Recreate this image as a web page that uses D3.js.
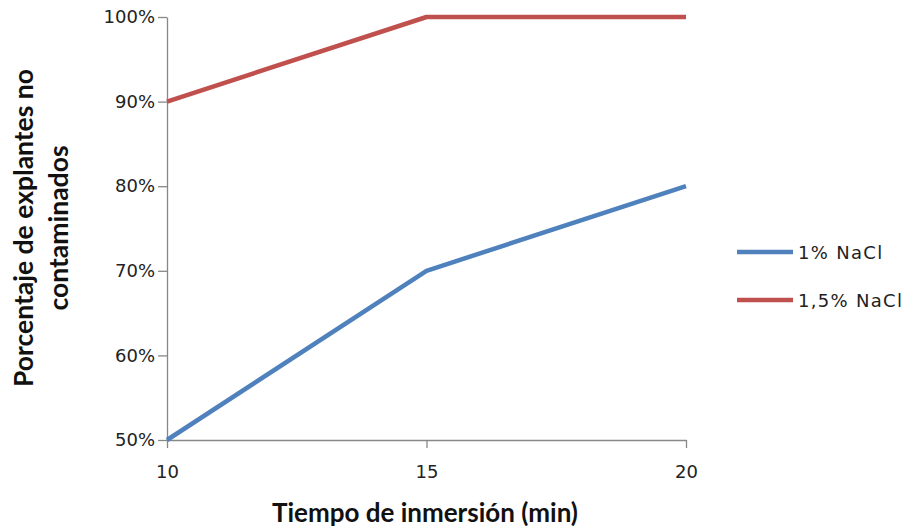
<!DOCTYPE html>
<html><head><meta charset="utf-8">
<script src="https://cdn.jsdelivr.net/npm/d3@7"></script>
<style>body{margin:0;background:#fff}</style>
</head><body>
<svg id="c" width="909" height="532"></svg>
<script>
const times = [10, 15, 20];
const nacl1 = [50, 70, 80];
const nacl15 = [90, 100, 100];
const seriesNames = ["1% NaCl", "1,5% NaCl"];
const seriesColors = ["#4F81BD", "#C0504D"];
const yTicks = [50, 60, 70, 80, 90, 100];

const svg = d3.select("#c");
const x = d3.scaleLinear().domain([10, 20]).range([167, 686]);
const y = d3.scaleLinear().domain([50, 100]).range([440, 17]);

const tickFont = "DejaVu Sans, Verdana, sans-serif";

const yAxis = svg.append("g").attr("transform", "translate(167,0)")
  .call(d3.axisLeft(y).tickValues(yTicks).tickSize(9).tickSizeOuter(0).tickFormat(d => d + "%").tickPadding(3));
const xAxis = svg.append("g").attr("transform", "translate(0,440)")
  .call(d3.axisBottom(x).tickValues(times).tickSize(8).tickSizeOuter(0).tickPadding(17));
[yAxis, xAxis].forEach(a => {
  a.select(".domain").attr("stroke", "#888").attr("stroke-width", 1.3);
  a.selectAll(".tick line").attr("stroke", "#888").attr("stroke-width", 1.3);
  a.selectAll("text").attr("font-family", tickFont).attr("font-size", 18).attr("fill", "#222");
});

const line = d3.line().x((d, i) => x(times[i])).y(d => y(d));
[nacl1, nacl15].forEach((s, i) => {
  svg.append("path").datum(s).attr("d", line).attr("fill", "none")
    .attr("stroke", seriesColors[i]).attr("stroke-width", 4.5).attr("stroke-linejoin", "round");
});

// legend
const legY = [252, 300];
seriesNames.forEach((n, i) => {
  svg.append("line").attr("x1", 737).attr("x2", 793).attr("y1", legY[i]).attr("y2", legY[i])
    .attr("stroke", seriesColors[i]).attr("stroke-width", 4.5);
  svg.append("text").attr("x", 798).attr("y", legY[i] + 7).text(n)
    .attr("font-family", tickFont).attr("font-size", 18).attr("letter-spacing", 1.3).attr("fill", "#222");
});

// axis titles
svg.append("text").attr("x", 425).attr("y", 522).attr("text-anchor", "middle")
  .attr("font-family", "Lato, sans-serif").attr("font-weight", "bold").attr("font-size", 26)
  .attr("fill", "#111").text("Tiempo de inmersión (min)");
const yt = svg.append("text").attr("transform", "translate(33,228) rotate(-90)")
  .attr("text-anchor", "middle").attr("font-family", "Lato, sans-serif")
  .attr("font-weight", "bold").attr("font-size", 26.5).attr("fill", "#111");
yt.append("tspan").attr("x", 0).attr("y", 0).text("Porcentaje de explantes no");
yt.append("tspan").attr("x", 0).attr("y", 35).text("contaminados");
</script>
</body></html>
